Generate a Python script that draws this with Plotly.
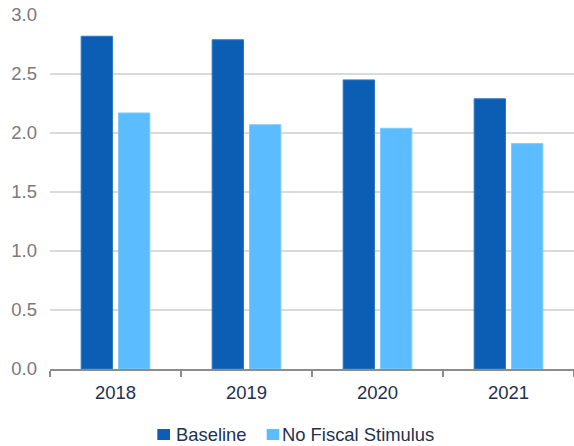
import plotly.graph_objects as go

years = ["2018", "2019", "2020", "2021"]
baseline = [2.82, 2.79, 2.45, 2.29]
no_fiscal_stimulus = [2.17, 2.07, 2.04, 1.91]
y_ticks = [0.0, 0.5, 1.0, 1.5, 2.0, 2.5, 3.0]

DARK = "#0B5EB4"
LIGHT = "#5BBDFF"
FONT = "Liberation Sans, Arial, sans-serif"

fig = go.Figure()
fig.add_trace(go.Bar(name="Baseline", x=years, y=baseline, showlegend=False,
                     marker=dict(color=DARK, line=dict(color="#2F78C4", width=1))))
fig.add_trace(go.Bar(name="No Fiscal Stimulus", x=years, y=no_fiscal_stimulus, showlegend=False,
                     marker=dict(color=LIGHT, line=dict(color="#7FCBFF", width=1))))

# compact legend below the axis: square swatch + series name
legend_entries = [
    # name, colour, swatch left, swatch right, label x (paper fractions)
    ("Baseline", DARK, 0.2048, 0.2290, 0.2366),
    ("No Fiscal Stimulus", LIGHT, 0.4135, 0.4375, 0.4390),
]
for name, color, x0, x1, xt in legend_entries:
    fig.add_shape(type="rect", xref="paper", yref="paper",
                  x0=x0, x1=x1, y0=-0.2006, y1=-0.1695,
                  fillcolor=color, line=dict(width=0))
    fig.add_annotation(
        xref="paper", yref="paper", x=xt, y=-0.185, xanchor="left", yanchor="middle",
        text=name, showarrow=False,
        font=dict(family=FONT, size=18.4, color="#1F3050"),
    )

fig.update_layout(
    width=574, height=446,
    margin=dict(l=50, r=0, t=15, b=77, autoexpand=False),
    paper_bgcolor="white", plot_bgcolor="white",
    barmode="group", bargap=0.43, bargroupgap=0.16,
    font=dict(family=FONT, size=18),
    showlegend=False,
)
fig.update_xaxes(
    type="category", range=[-0.5, 3.5], automargin=False,
    showline=True, linecolor="#8C8C8C", linewidth=1.5,
    ticks="outside", tickson="boundaries", ticklen=6, tickcolor="#8C8C8C", tickwidth=1.5,
    ticklabelstandoff=6,
    tickfont=dict(family=FONT, size=18.5, color="#1F3050"),
    showgrid=False,
)
fig.update_yaxes(
    range=[0, 3.0], tickvals=y_ticks, ticktext=[f"{v:.1f}" for v in y_ticks],
    automargin=False,
    showgrid=True, gridcolor="#DADADA", gridwidth=1.5,
    zeroline=False, showline=False, ticks="",
    ticklabelstandoff=12,
    tickfont=dict(family=FONT, size=18.5, color="#7A7A7A"),
)

fig.write_html("out.html")
